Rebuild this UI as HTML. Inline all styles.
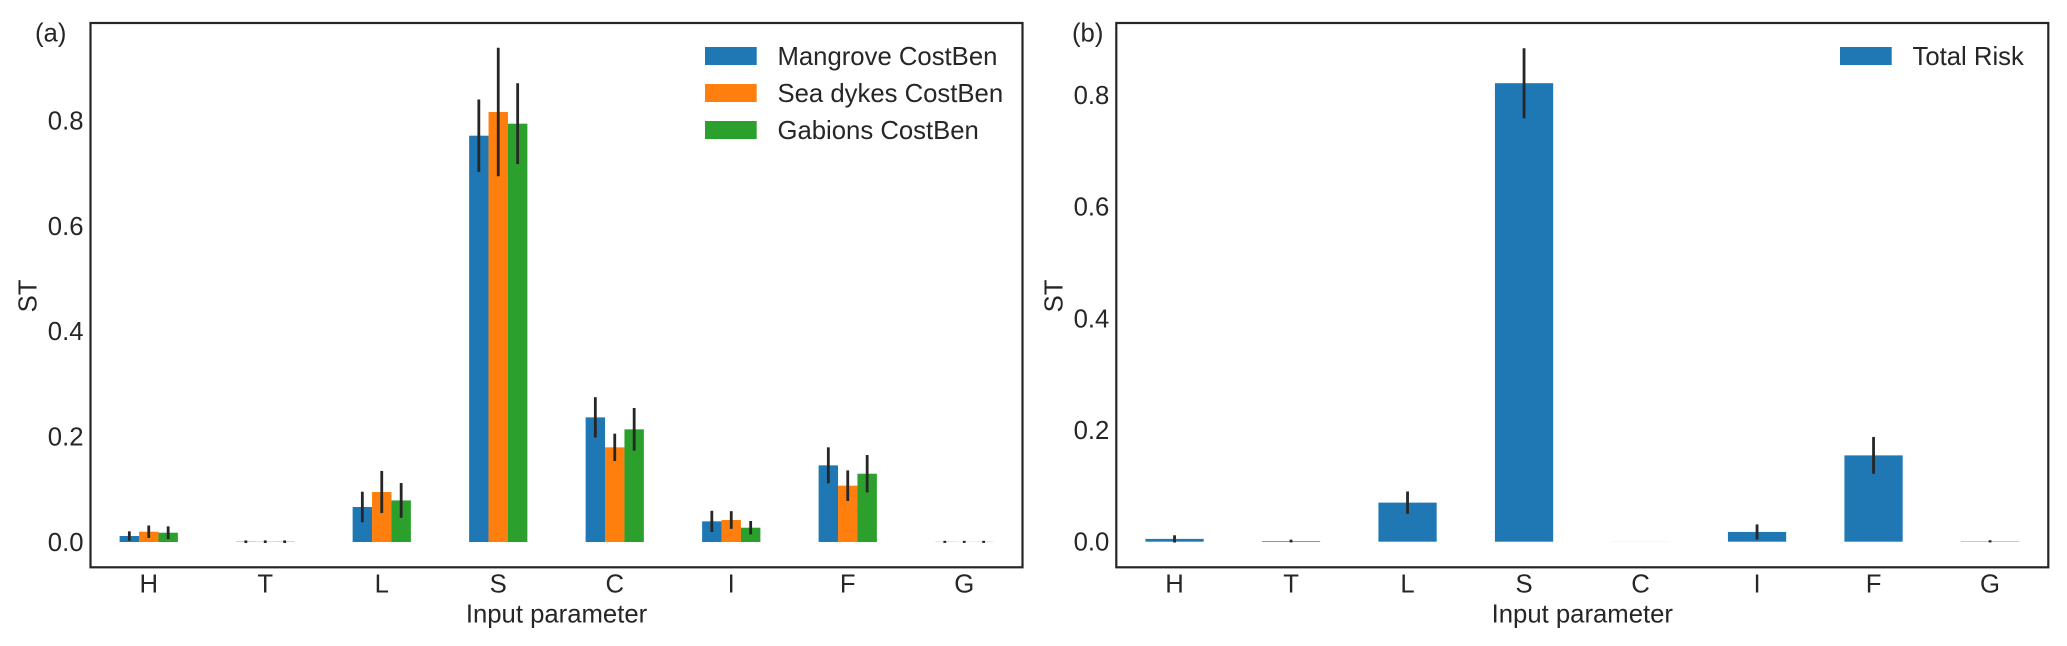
<!DOCTYPE html>
<html>
<head>
<meta charset="utf-8">
<style>
html,body{margin:0;padding:0;background:#fff;width:2067px;height:646px;overflow:hidden}
svg{display:block}
text{font-family:"Liberation Sans",Arial,sans-serif;fill:#262626;font-size:25.7px}
</style>
</head>
<body>
<svg id="figure" width="2067" height="646" viewBox="0 0 2067 646" xmlns="http://www.w3.org/2000/svg"></svg>
<script>
const categories = ['H', 'T', 'L', 'S', 'C', 'I', 'F', 'G'];
const yTicks = [0, 0.2, 0.4, 0.6, 0.8];
const yTickLabels = ['0.0', '0.2', '0.4', '0.6', '0.8'];

const mangroveValues = [0.0114, 0.0006, 0.0665, 0.7716, 0.2367, 0.0393, 0.1456, 0.0003];
const mangroveErrors = [0.0089, 0.0025, 0.0290, 0.0687, 0.0383, 0.0200, 0.0342, 0.0020];
const seaDykesValues = [0.0196, 0.0006, 0.0950, 0.8166, 0.1798, 0.0418, 0.1070, 0.0003];
const seaDykesErrors = [0.0118, 0.0025, 0.0400, 0.1220, 0.0260, 0.0168, 0.0290, 0.0020];
const gabionsValues = [0.0177, 0.0006, 0.0790, 0.7944, 0.2140, 0.0272, 0.1297, 0.0003];
const gabionsErrors = [0.0120, 0.0025, 0.0330, 0.0769, 0.0405, 0.0127, 0.0355, 0.0020];

const totalRiskValues = [0.0050, 0.0012, 0.0700, 0.8217, 0.0001, 0.0175, 0.1547, 0.0006];
const totalRiskErrors = [0.0065, 0.0025, 0.0200, 0.0627, 0.0000, 0.0135, 0.0330, 0.0020];

const legendLabelsA = ['Mangrove CostBen', 'Sea dykes CostBen', 'Gabions CostBen'];
const legendLabelsB = ['Total Risk'];
const seriesColors = ['#1f77b4', '#ff7f0e', '#2ca02c'];

const svg = document.getElementById('figure');
const NS = 'http://www.w3.org/2000/svg';
const INK = '#262626';

function make(tag, attrs, text) {
  const el = document.createElementNS(NS, tag);
  for (const k in attrs) el.setAttribute(k, attrs[k]);
  if (text !== undefined) el.textContent = text;
  svg.appendChild(el);
  return el;
}

function linear(d0, d1, r0, r1) {
  return function (v) { return r0 + (v - d0) * (r1 - r0) / (d1 - d0); };
}

function drawPanel(p) {
  const x = linear(-0.5, 7.5, p.left, p.right);
  const y = linear(p.yMin, p.yMax, p.bottom, p.top);
  const bw = 0.5 / p.series.length;

  p.series.forEach(function (s, si) {
    categories.forEach(function (c, i) {
      const cx = i + (si - (p.series.length - 1) / 2) * bw;
      const bar = make('rect', {
        x: x(cx - bw / 2), y: y(s.values[i]),
        width: x(cx + bw / 2) - x(cx - bw / 2),
        height: y(0) - y(s.values[i]), fill: s.color
      });
      
      
    });
  });
  p.series.forEach(function (s) {
    const si = p.series.indexOf(s);
    categories.forEach(function (c, i) {
      if (s.errors[i] <= 0) return;
      const cx = i + (si - (p.series.length - 1) / 2) * bw;
      const err = make('line', {
        x1: x(cx), x2: x(cx),
        y1: y(s.values[i] - s.errors[i]), y2: y(s.values[i] + s.errors[i]),
        stroke: INK, 'stroke-width': 2.8
      });
      
      
    });
  });

  const frame = make('rect', {
    x: p.left, y: p.top, width: p.right - p.left, height: p.bottom - p.top,
    fill: 'none', stroke: INK, 'stroke-width': 2.2
  });
  
  

  yTicks.forEach(function (t, i) {
    const lab = make('text', { x: p.left - 7, y: y(t) + 8.8, 'text-anchor': 'end' }, yTickLabels[i]);
    
    
  });
  categories.forEach(function (c, i) {
    const lab = make('text', { x: x(i), y: 592.3, 'text-anchor': 'middle' }, c);
    
    
  });

  const xTitle = make('text', { x: (p.left + p.right) / 2, y: 622.7, 'text-anchor': 'middle' }, 'Input parameter');
  
  

  const yTitle = make('text', {
    x: 0, y: 0, 'text-anchor': 'middle',
    transform: 'translate(' + p.yTitleX + ' 296) rotate(-90)'
  }, 'ST');
  
  

  const tag = make('text', { x: p.tagX, y: 41.5 }, p.tag);
  
  

  p.legend.forEach(function (label, i) {
    const top = 47 + i * 37;
    const sw = make('rect', { x: p.legendX, y: top, width: 51.7, height: 18, fill: p.series[i].color });
    
    
    const tx = make('text', { x: p.legendX + 72.5, y: top + 18 }, label);
    
    
  });
}

drawPanel({
  id: 'a', tag: '(a)', tagX: 35, yTitleX: 36.5,
  left: 90.5, right: 1022.5, top: 23, bottom: 567.3,
  yMin: -0.048, yMax: 0.9856,
  legend: legendLabelsA, legendX: 705,
  series: [
    { key: 'mangrove', color: seriesColors[0], values: mangroveValues, errors: mangroveErrors },
    { key: 'sea-dykes', color: seriesColors[1], values: seaDykesValues, errors: seaDykesErrors },
    { key: 'gabions', color: seriesColors[2], values: gabionsValues, errors: gabionsErrors }
  ]
});

drawPanel({
  id: 'b', tag: '(b)', tagX: 1072, yTitleX: 1062.5,
  left: 1116.3, right: 2048.3, top: 23, bottom: 567.3,
  yMin: -0.0459, yMax: 0.9296,
  legend: legendLabelsB, legendX: 1840,
  series: [
    { key: 'total-risk', color: seriesColors[0], values: totalRiskValues, errors: totalRiskErrors }
  ]
});
</script>
</body>
</html>
